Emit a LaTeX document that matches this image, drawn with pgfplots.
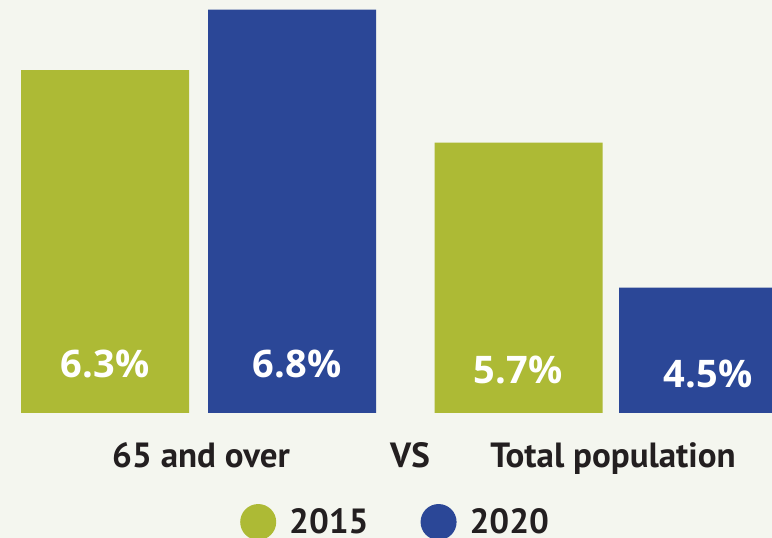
\documentclass[border=0pt]{standalone}
\usepackage{fontspec}
\setmainfont{PT Sans}
\newfontfamily\numfont{Open Sans}
\usepackage{pgfplots}
\pgfplotsset{compat=1.18}
\definecolor{greenc}{HTML}{ADBA35}
\definecolor{bluec}{HTML}{2B4797}
\definecolor{txt}{HTML}{231F20}
\definecolor{bgc}{HTML}{F4F6EF}
\begin{document}
\begin{tikzpicture}
\useasboundingbox (0pt,0pt) rectangle (772pt,538pt);
\clip (0pt,0pt) rectangle (772pt,538pt);
\fill[bgc] (0pt,0pt) rectangle (772pt,538pt);
\begin{axis}[
  at={(0pt,125pt)}, anchor=south west,
  scale only axis, width=772pt, height=413pt,
  xmin=0, xmax=772, ymin=3.462, ymax=6.880,
  axis line style={draw=none},
  ytick=\empty,
  xtick={201,410,613},
  xticklabels={65 and over, VS, Total population},
  major tick length=0pt,
  xticklabel style={anchor=base, yshift=-55pt, inner sep=0pt,
    font=\fontsize{35}{35}\selectfont\bfseries, text=txt},
  ybar, bar width=168, bar shift=0pt,
  legend columns=2,
  legend style={at={(0.307,-0.2640)}, anchor=west, draw=none, fill=none,
    font=\fontsize{35}{35}\selectfont\bfseries, text=txt,
    nodes={inner sep=0pt},
    /tikz/every odd column/.append style={column sep=13pt},
    /tikz/every even column/.append style={column sep=52pt}},
]
\addplot[fill=greenc, draw=none,
  legend image code/.code={\fill[greenc] (0pt,0pt) circle (18pt);}]
  coordinates {(105,6.3) (518.5,5.7)};
\addplot[fill=bluec, draw=none,
  legend image code/.code={\fill[bluec] (0pt,0pt) circle (18pt);}]
  coordinates {(292,6.8) (703,4.5)};
\legend{2015,2020}
\begin{scope}[every node/.style={anchor=base, text=white, inner sep=0pt,
    font=\numfont\fontsize{38}{38}\selectfont\bfseries}]
\node at (axis cs:105,3.752) {6.3\%};
\node at (axis cs:297,3.752) {6.8\%};
\node at (axis cs:518,3.710) {5.7\%};
\node at (axis cs:708,3.669) {4.5\%};
\end{scope}
\end{axis}
\end{tikzpicture}
\end{document}
